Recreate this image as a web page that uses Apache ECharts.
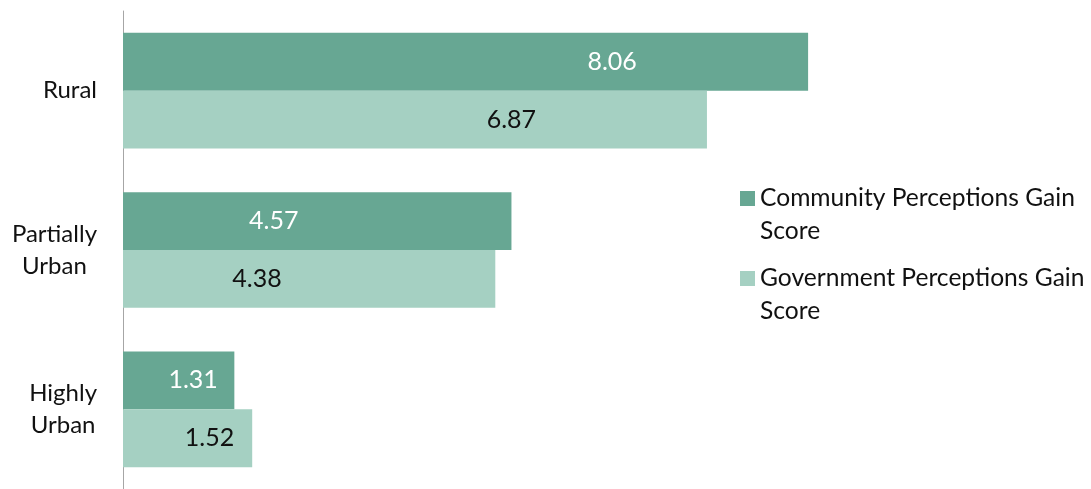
<!DOCTYPE html>
<html>
<head>
<meta charset="utf-8">
<script src="https://cdn.jsdelivr.net/npm/echarts@6/dist/echarts.min.js"></script>
<style>
  html, body { margin: 0; padding: 0; background: #ffffff; }
  #chart { width: 1091px; height: 489px; }
</style>
</head>
<body>
<div id="chart"></div>
<script>
// Gain scores by settlement type
const categories = ['Rural', 'Partially\nUrban', 'Highly\nUrban'];
const seriesNames = ['Community Perceptions Gain Score', 'Government Perceptions Gain Score'];
const communityScores = [8.06, 4.57, 1.31];
const governmentScores = [6.87, 4.38, 1.52];

// Where each value label sits along its bar (share of bar length)
const communityLabelAt = ['71.4%', '38.8%', '63%'];
const governmentLabelAt = ['66.5%', '36%', '67%'];

const FONT = 'Lato';
const darkGreen = '#67a793';
const lightGreen = '#a5d0c2';

function barData(values, labelAt) {
  return values.map((v, i) => ({
    value: v,
    label: { position: [labelAt[i], '50%'] }
  }));
}

const chart = echarts.init(document.getElementById('chart'), null, { renderer: 'canvas' });

chart.setOption({
  animation: false,
  backgroundColor: '#ffffff',
  textStyle: { fontFamily: FONT },
  grid: { left: 123, right: 118, top: 11, height: 484, containLabel: false },
  legend: {
    orient: 'vertical',
    left: 740,
    top: 149,
    padding: 0,
    itemWidth: 15,
    itemHeight: 15,
    itemGap: -19,
    icon: 'rect',
    selectedMode: false,
    // a blank leading line keeps the swatch level with the first text line
    formatter: name => ' \n' + name.replace(' Gain ', ' Gain\n'),
    textStyle: {
      fontFamily: FONT,
      fontSize: 24.6,
      color: '#111111',
      lineHeight: 33
    },
    data: seriesNames
  },
  xAxis: {
    type: 'value',
    min: 0,
    max: 10,
    show: false
  },
  yAxis: {
    type: 'category',
    inverse: true,
    data: categories,
    axisLine: { show: true, lineStyle: { color: '#a6a6a6', width: 1 } },
    axisTick: { show: false },
    axisLabel: {
      margin: 26,
      align: 'right',
      formatter: v => v.split('\n').map(l => '{c|' + l + '}').join('\n'),
      rich: {
        c: { align: 'center', fontFamily: FONT, fontSize: 24, lineHeight: 32, color: '#111111' }
      }
    },
    splitLine: { show: false }
  },
  series: [
    {
      name: seriesNames[0],
      type: 'bar',
      barGap: '0%',
      barCategoryGap: '27.4%',
      itemStyle: { color: darkGreen },
      label: {
        show: true,
        align: 'center',
        verticalAlign: 'middle',
        fontFamily: FONT,
        fontSize: 25,
        color: '#ffffff',
        formatter: p => p.value.toFixed(2)
      },
      data: barData(communityScores, communityLabelAt)
    },
    {
      name: seriesNames[1],
      type: 'bar',
      barGap: '0%',
      barCategoryGap: '27.4%',
      itemStyle: { color: lightGreen },
      label: {
        show: true,
        align: 'center',
        verticalAlign: 'middle',
        fontFamily: FONT,
        fontSize: 25,
        color: '#111111',
        formatter: p => p.value.toFixed(2)
      },
      data: barData(governmentScores, governmentLabelAt)
    }
  ]
});
</script>
</body>
</html>
